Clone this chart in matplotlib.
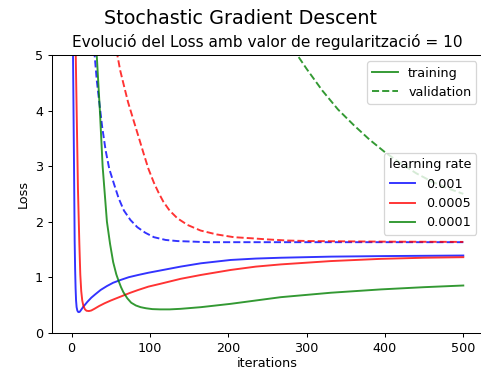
import matplotlib
matplotlib.use("Agg")
import matplotlib.pyplot as plt
from matplotlib.lines import Line2D

# ---- dades llegides del grafic ----
learning_rates = ["0.001", "0.0005", "0.0001"]
colors = ["blue", "red", "green"]

# training loss (lr = 0.001)
train_x_001 = [0, 1.7, 3, 3.8, 4.4, 5.0, 5.6, 6.3, 7.2, 8.2, 9.3, 10.5, 12, 15, 20, 25, 30, 37, 45, 53, 62.5, 73, 85, 98, 113, 139, 165, 203, 235, 267, 331, 400, 500]
train_y_001 = [9.0, 5.0, 3.0, 1.66, 1.15, 0.80, 0.58, 0.46, 0.40, 0.375, 0.37, 0.38, 0.41, 0.47, 0.555, 0.63, 0.69, 0.77, 0.84, 0.90, 0.95, 1.00, 1.04, 1.08, 1.12, 1.19, 1.25, 1.31, 1.335, 1.35, 1.37, 1.38, 1.39]

# training loss (lr = 0.0005)
train_x_0005 = [0, 5.2, 8, 9.8, 11, 12.2, 13.5, 15, 17, 19, 22, 25, 29, 35, 42, 50, 58, 66, 75, 85, 98, 113, 139, 165, 203, 235, 267, 331, 395, 450, 500]
train_y_0005 = [12.0, 5.0, 2.6, 1.6, 1.05, 0.75, 0.58, 0.48, 0.42, 0.395, 0.39, 0.40, 0.43, 0.48, 0.53, 0.58, 0.625, 0.67, 0.72, 0.77, 0.83, 0.88, 0.97, 1.04, 1.13, 1.19, 1.23, 1.29, 1.33, 1.35, 1.36]

# training loss (lr = 0.0001)
train_x_0001 = [28, 32, 36, 39.5, 45, 49, 53, 57, 60, 63, 66, 71, 76, 82, 88, 95, 103, 113, 125, 139, 165, 203, 267, 331, 395, 450, 500]
train_y_0001 = [6.5, 5.0, 4.0, 3.0, 2.0, 1.6, 1.27, 1.05, 0.93, 0.82, 0.73, 0.62, 0.54, 0.49, 0.46, 0.44, 0.425, 0.42, 0.42, 0.43, 0.46, 0.52, 0.64, 0.72, 0.78, 0.82, 0.85]

# validation loss
val_x_001 = [27, 29.3, 32, 35, 39, 43.4, 48, 54, 60, 66.7, 75, 83.8, 94, 105, 120, 135, 155, 173, 250, 350, 500]
val_y_001 = [6.0, 5.0, 4.55, 4.18, 3.70, 3.28, 2.95, 2.68, 2.42, 2.20, 2.03, 1.90, 1.80, 1.72, 1.67, 1.65, 1.64, 1.63, 1.63, 1.63, 1.63]

val_x_0005 = [56, 58.3, 62, 66.7, 72, 79.5, 86, 92, 98, 105, 111, 117, 125, 135, 148, 164.5, 185, 207, 230, 250, 275, 305, 350, 400, 500]
val_y_0005 = [6.0, 5.0, 4.72, 4.45, 4.15, 3.80, 3.50, 3.22, 2.95, 2.70, 2.52, 2.36, 2.20, 2.06, 1.94, 1.84, 1.77, 1.72, 1.70, 1.68, 1.66, 1.65, 1.645, 1.64, 1.635]

val_x_0001 = [280, 288, 300, 320, 340, 360, 380, 400, 420, 440, 460, 480, 500]
val_y_0001 = [5.3, 5.0, 4.75, 4.36, 4.02, 3.74, 3.48, 3.25, 3.05, 2.87, 2.72, 2.60, 2.50]

train_x = [train_x_001, train_x_0005, train_x_0001]
train_y = [train_y_001, train_y_0005, train_y_0001]
val_x = [val_x_001, val_x_0005, val_x_0001]
val_y = [val_y_001, val_y_0005, val_y_0001]

DPI = 92
fig = plt.figure(figsize=(481 / DPI, 371 / DPI), dpi=DPI)
ax = fig.add_axes([0.1083, 0.1032, 0.8956, 0.7485])

for i in range(3):
    ax.plot(train_x[i], train_y[i], color=colors[i], alpha=0.8, lw=1.5)
    ax.plot(val_x[i], val_y[i], color=colors[i], alpha=0.8, lw=1.5, ls="--")

ax.set_xlim(-25, 525)
ax.set_ylim(0, 5)
ax.set_xlabel("iterations", labelpad=2)
ax.set_ylabel("Loss")
ax.set_title("Evolució del Loss amb valor de regularització = 10")
fig.suptitle("Stochastic Gradient Descent", fontsize=15, y=0.976)

# llegenda tipus de linia
tipus = [Line2D([], [], color="green", alpha=0.8, lw=1.5),
         Line2D([], [], color="green", alpha=0.8, lw=1.5, ls="--")]
leg1 = ax.legend(tipus, ["training", "validation"], loc="upper right")
ax.add_artist(leg1)

# llegenda learning rate
lrs = [Line2D([], [], color=c, alpha=0.8, lw=1.5) for c in colors]
ax.legend(lrs, learning_rates, title="learning rate", loc="center right")

fig.savefig("out.png", dpi=DPI)
